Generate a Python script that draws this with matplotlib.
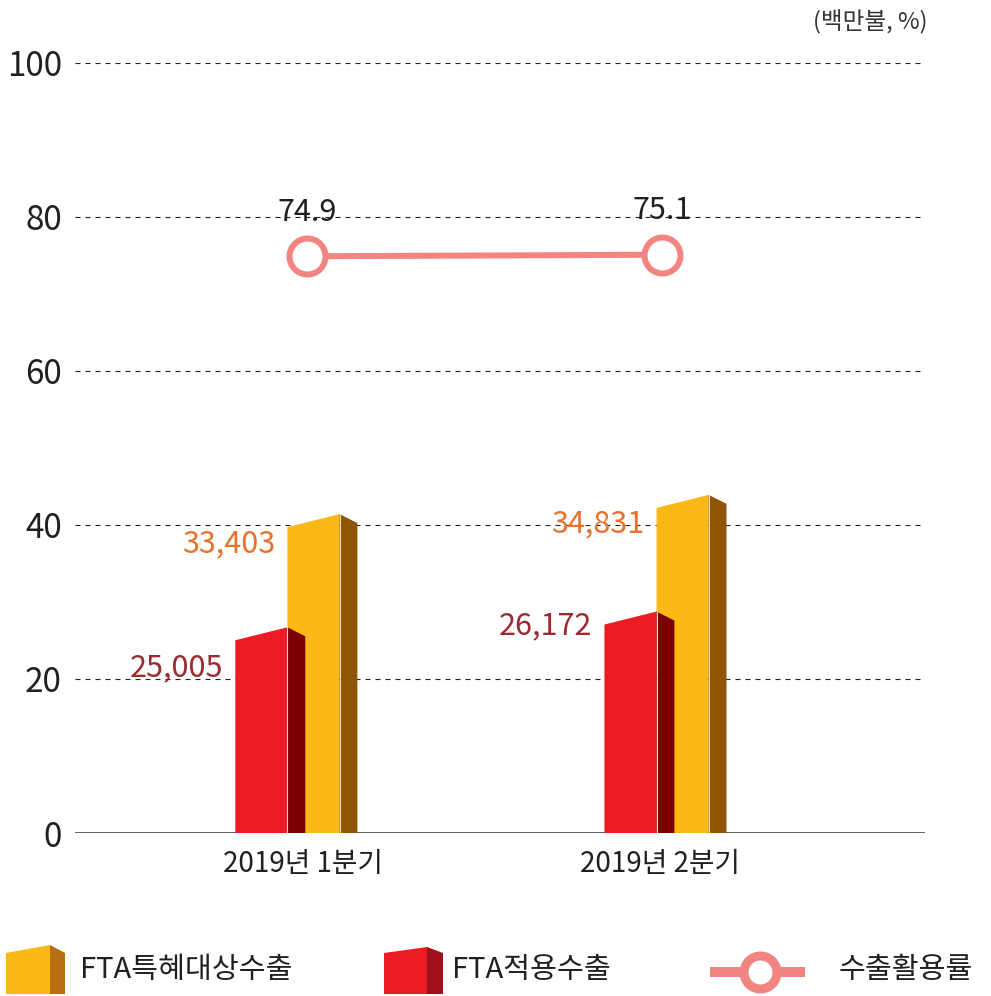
import matplotlib
matplotlib.use('Agg')
import matplotlib.pyplot as plt
from matplotlib.patches import Polygon

plt.rcParams['font.family'] = ['Noto Sans CJK KR', 'DejaVu Sans']

# data
categories = ['2019년 1분기', '2019년 2분기']
fta_target = [33403, 34831]   # FTA특혜대상수출 (백만불)
fta_used = [25005, 26172]     # FTA적용수출 (백만불)
util_rate = [74.9, 75.1]      # 수출활용률 (%)
yticks = [0, 20, 40, 60, 80, 100]
legend_labels = ['FTA특혜대상수출', 'FTA적용수출', '수출활용률']

# colours
yellow, yellow_side = '#FBB817', '#8E5502'
red, red_side = '#ED1C24', '#7B0000'
pink = '#F28582'
txt = '#231F20'
orange_txt = '#E8712B'
red_txt = '#9E2A2F'

PT = 0.72  # points per pixel at dpi 100

fig = plt.figure(figsize=(9.91, 9.96), dpi=100)
ax = fig.add_axes([75 / 991, 163 / 996, 850 / 991, 770 / 996])
ax.set_xlim(-0.639, 1.742)
ax.set_ylim(0, 100)

# secondary (hidden) scale for the export amounts
ax2 = ax.twinx()
ax2.set_ylim(10700, 67850)
ax2.set_yticks([])
upp = (67850 - 10700) / 770.0  # bar units per pixel

for y in yticks[1:]:
    ax.axhline(y, color='#222222', lw=0.8, ls=(0, (4.5, 4.5)), zorder=1)
ax.axhline(0, color='#555555', lw=1.3, zorder=3)

for s in ax.spines.values():
    s.set_visible(False)
for s in ax2.spines.values():
    s.set_visible(False)

ax.set_yticks(yticks)
ax.set_yticklabels([str(t) for t in yticks], fontsize=24, color=txt)
ax.set_xticks([0, 1])
ax.set_xticklabels(categories, fontsize=20, color=txt)
ax.tick_params(axis='y', length=0, pad=13 * PT)
ax.tick_params(axis='x', length=0, pad=16 * PT)


def bar3d(axis, x0, w, v, face, side, z):
    dtop = 13 * upp
    dside = 9 * upp
    sw = 0.05
    axis.fill([x0, x0, x0 + w, x0 + w], [0, v, v + dtop, 0],
              color=face, lw=0, zorder=z)
    axis.fill([x0 + w, x0 + w, x0 + w + sw, x0 + w + sw],
              [0, v + dtop, v + dtop - dside, 0], color=side, lw=0, zorder=z)
    axis.plot([x0 + w, x0 + w], [0, v + dtop], color='#F6D7B0', lw=0.8, zorder=z + 0.1)


w = 0.146
yoff_target = [17, 16]
yoff_used = [28, 1]
for i in range(len(categories)):
    xr = i - 0.19 + 0.034 * i
    xy = xr + w
    bar3d(ax2, xy, w, fta_target[i], yellow, yellow_side, 2)
    bar3d(ax2, xr, w, fta_used[i], red, red_side, 3)
    ax2.annotate(f'{fta_target[i]:,}', (xy, fta_target[i]),
                 xytext=(-12 * PT, -yoff_target[i] * PT), textcoords='offset points',
                 ha='right', va='center', fontsize=22, fontweight='medium', color=orange_txt)
    ax2.annotate(f'{fta_used[i]:,}', (xr, fta_used[i]),
                 xytext=(-12 * PT, -yoff_used[i] * PT), textcoords='offset points',
                 ha='right', va='center', fontsize=22, fontweight='medium', color=red_txt)

# utilisation rate line
xs = [0.01, 1.005]
ax.plot(xs, util_rate, color=pink, lw=6 * PT, marker='o', ms=36 * PT,
        mfc='white', mec=pink, mew=6 * PT, zorder=5)
for x, v in zip(xs, util_rate):
    ax.annotate(f'{v}', (x, v), xytext=(0, 44 * PT), textcoords='offset points',
                ha='center', va='center', fontsize=22, color=txt)

fig.text(870 / 991, 1 - 22 / 996, '(백만불, %)', ha='center', va='center',
         fontsize=17, color='#333333')

# legend drawn in pixel space
lax = fig.add_axes([0, 0, 1, 1])
lax.set_xlim(0, 991)
lax.set_ylim(996, 0)
lax.axis('off')
lax.add_patch(Polygon([(6, 994), (6, 953), (50, 945), (50, 994)], color=yellow, lw=0))
lax.add_patch(Polygon([(50, 994), (50, 945), (65, 953), (65, 994)], color='#B86E12', lw=0))
lax.add_patch(Polygon([(384, 994), (384, 953), (427, 947), (427, 994)], color=red, lw=0))
lax.add_patch(Polygon([(427, 994), (427, 947), (443, 953), (443, 994)], color='#A0101A', lw=0))
lax.plot([715, 800], [972, 972], color=pink, lw=10 * PT)
lax.plot([760], [972], marker='o', ms=33 * PT, mfc='white', mec=pink, mew=9 * PT, color=pink)
for x, lab in zip([80, 452, 839], legend_labels):
    lax.text(x, 970, lab, ha='left', va='center', fontsize=21, color=txt)

fig.savefig('out.png', dpi=100)
